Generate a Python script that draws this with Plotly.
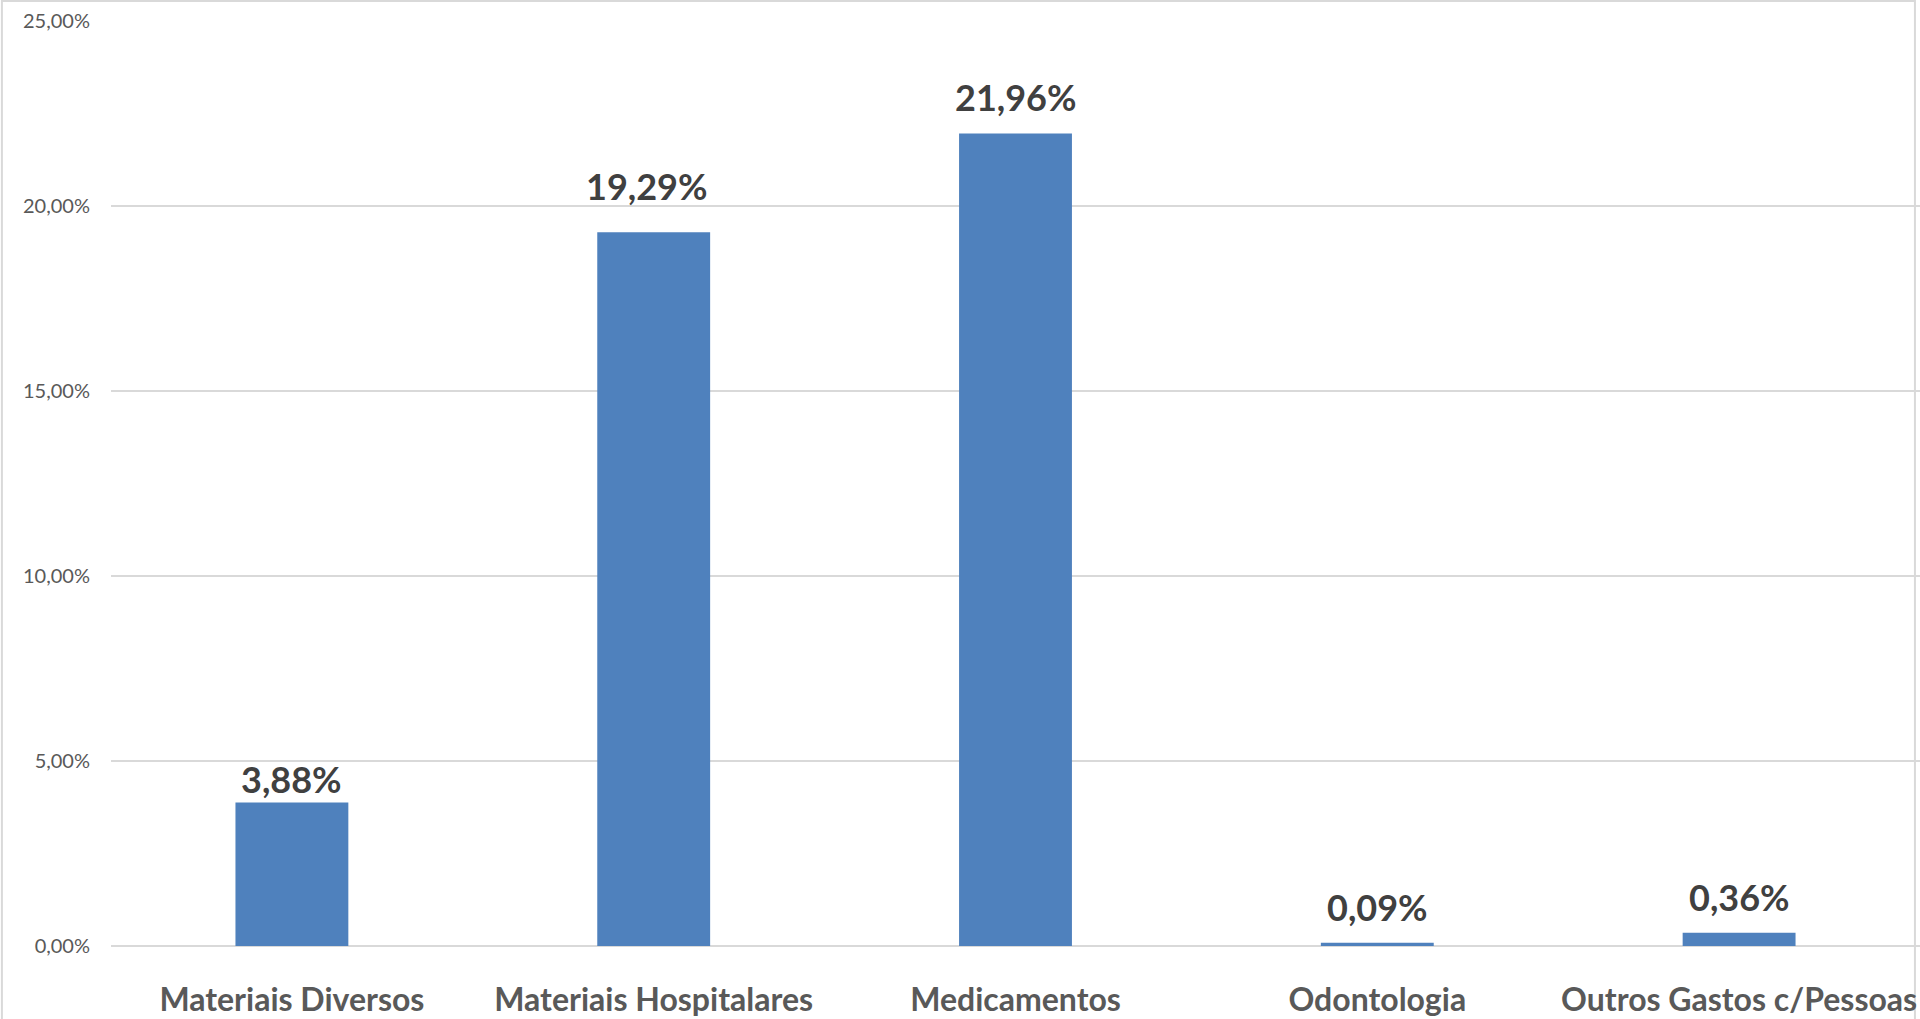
import plotly.graph_objects as go

# Data
categorias = ["Materiais Diversos", "Materiais Hospitalares", "Medicamentos",
              "Odontologia", "Outros Gastos c/Pessoas"]
percentuais = [3.88, 19.29, 21.96, 0.09, 0.36]
y_ticks = [0, 5, 10, 15, 20, 25]
y_tick_labels = ["0,00%", "5,00%", "10,00%", "15,00%", "20,00%", "25,00%"]


def bar_chart():
    fig = go.Figure(go.Bar(
        x=categorias,
        y=percentuais,
        marker=dict(color="#4F81BD", line=dict(width=0)),
        width=0.312,
    ))

    # value labels above the bars; a couple were nudged by hand in the original
    nudges = {"Materiais Diversos": (0, -1), "Materiais Hospitalares": (-7, 22)}
    for cat, val in zip(categorias, percentuais):
        dx, dy = nudges.get(cat, (0, 12))
        fig.add_annotation(
            x=cat, y=val, text=f"{val:.2f}%".replace(".", ","),
            showarrow=False, yanchor="bottom", xshift=dx, yshift=dy,
            font=dict(family="Lato", size=36, color="#404040", weight="bold"),
        )

    fig.update_layout(
        width=1920, height=1019,
        margin=dict(l=111, r=0, t=21, b=73, autoexpand=False),
        paper_bgcolor="white", plot_bgcolor="white",
        showlegend=False,
        font=dict(family="Lato"),
        # light grey frame around the whole chart
        shapes=[dict(type="rect", xref="paper", yref="paper",
                     x0=-0.0603, x1=0.9972, y0=-0.1, y1=1.0216,
                     line=dict(color="#D9D9D9", width=2), layer="below")],
    )
    fig.update_xaxes(
        automargin=False,
        showgrid=False, showline=False, zeroline=False,
        ticks="outside", ticklen=26, tickcolor="rgba(0,0,0,0)",
        tickfont=dict(family="Lato", size=32, color="#595959", weight="bold"),
    )
    fig.update_yaxes(
        automargin=False,
        range=[0, 25], tickvals=y_ticks, ticktext=y_tick_labels,
        showgrid=True, gridcolor="#D9D9D9", gridwidth=2,
        zeroline=True, zerolinecolor="#D9D9D9", zerolinewidth=2,
        showline=False, ticks="outside", ticklen=16, tickcolor="rgba(0,0,0,0)",
        tickfont=dict(family="Lato", size=20, color="#595959"),
    )

    # drop the browser's default body margin so the chart sits at the page corner
    fig.write_html("out.html", config={"displayModeBar": False},
                   post_script="document.body.style.margin = '0';")


if __name__ == "__main__":
    bar_chart()
